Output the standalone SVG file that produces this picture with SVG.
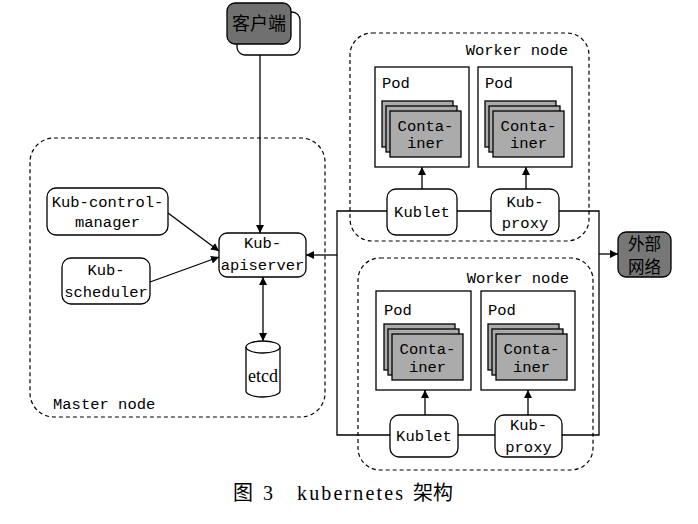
<svg xmlns="http://www.w3.org/2000/svg" width="698" height="524" viewBox="0 0 698 524">
<defs>
<style>
.t{font-family:"Liberation Mono",monospace;font-size:15.5px;fill:#000;}
.m{text-anchor:middle;}
.zh{font-family:"Noto Sans CJK SC",sans-serif;font-size:18px;fill:#000;}
.box{fill:#fff;stroke:#000;stroke-width:1.3;}
.dash{fill:none;stroke:#000;stroke-width:1.2;stroke-dasharray:4 3;}
.pod{fill:#fff;stroke:#000;stroke-width:1.3;}
.ct{fill:#ababab;stroke:#000;stroke-width:1.3;}
.ln{fill:none;stroke:#000;stroke-width:1.3;}
.ar{fill:none;stroke:#000;stroke-width:1.3;marker-end:url(#ah);}
</style>
<marker id="ah" viewBox="0 0 10 10" refX="10" refY="5" markerWidth="8" markerHeight="8" markerUnits="userSpaceOnUse" orient="auto-start-reverse">
<path d="M0,0 L10,5 L0,10 z" fill="#000"/>
</marker>
<g id="cstack">
<rect class="ct" x="0" y="0" width="71" height="46"/>
<rect class="ct" x="4" y="5" width="71" height="46"/>
<rect class="ct" x="8" y="10" width="71" height="46"/>
</g>
</defs>
<rect width="698" height="524" fill="#fff"/>

<g id="client">
<rect x="237" y="12" width="63" height="43" rx="8" fill="#fff" stroke="#000" stroke-width="1.3"/>
<rect x="227" y="3" width="64" height="41" rx="8" fill="#707070" stroke="#000" stroke-width="1.3"/>
<text class="zh m" x="259" y="30">客户端</text>
</g>

<g id="master-node">
<rect class="dash" x="30" y="138" width="295" height="279" rx="24"/>
<text class="t" x="53" y="409">Master node</text>
</g>

<g id="controller-manager">
<rect class="box" x="47" y="188" width="121" height="47" rx="9"/>
<text class="t m" x="107.5" y="207">Kub-control-</text>
<text class="t m" x="107.5" y="227">manager</text>
</g>

<g id="scheduler">
<rect class="box" x="62" y="258" width="88" height="46" rx="9"/>
<text class="t m" x="106" y="275">Kub-</text>
<text class="t m" x="106" y="297">scheduler</text>
</g>

<g id="apiserver">
<rect class="box" x="219" y="233" width="87" height="44" rx="8"/>
<text class="t m" x="262.5" y="248">Kub-</text>
<text class="t m" x="262.5" y="270">apiserver</text>
</g>

<g id="etcd">
<path d="M246,347 L246,391 A17,6 0 0 0 280,391 L280,347" fill="#fff" stroke="#000" stroke-width="1.3"/>
<ellipse cx="263" cy="347" rx="17" ry="6" fill="#fff" stroke="#000" stroke-width="1.3"/>
<text x="263" y="382" text-anchor="middle" style="font-family:'Liberation Serif',serif;font-size:18px">etcd</text>
</g>

<g id="worker-node-1">
<rect class="dash" x="350" y="33" width="239" height="208" rx="22"/>
<text class="t" x="568" y="55" text-anchor="end">Worker node</text>
</g>
<g id="pod-1">
<rect class="pod" x="375" y="67" width="94" height="100"/>
<text class="t" x="382" y="88">Pod</text>
<use href="#cstack" x="382" y="101"/>
<text class="t m" x="425.5" y="131">Conta-</text>
<text class="t m" x="425.5" y="148">iner</text>
</g>
<g id="pod-2">
<rect class="pod" x="478" y="67" width="94" height="100"/>
<text class="t" x="485" y="88">Pod</text>
<use href="#cstack" x="485" y="101"/>
<text class="t m" x="528.5" y="131">Conta-</text>
<text class="t m" x="528.5" y="148">iner</text>
</g>
<g id="kublet-1">
<rect class="box" x="387" y="189" width="70" height="46" rx="9"/>
<text class="t m" x="422" y="217">Kublet</text>
</g>
<g id="kubproxy-1">
<rect class="box" x="491" y="189" width="68" height="46" rx="9"/>
<text class="t m" x="525" y="207">Kub-</text>
<text class="t m" x="525" y="228">proxy</text>
</g>

<g id="worker-node-2">
<rect class="dash" x="358" y="258" width="235" height="212" rx="22"/>
<text class="t" x="569" y="283" text-anchor="end">Worker node</text>
</g>
<g id="pod-3">
<rect class="pod" x="376" y="291" width="95" height="99"/>
<text class="t" x="384" y="315">Pod</text>
<use href="#cstack" x="384" y="324"/>
<text class="t m" x="427.5" y="354">Conta-</text>
<text class="t m" x="427.5" y="372">iner</text>
</g>
<g id="pod-4">
<rect class="pod" x="481" y="291" width="94" height="99"/>
<text class="t" x="488" y="315">Pod</text>
<use href="#cstack" x="488" y="324"/>
<text class="t m" x="531.5" y="354">Conta-</text>
<text class="t m" x="531.5" y="372">iner</text>
</g>
<g id="kublet-2">
<rect class="box" x="390" y="415" width="68" height="42" rx="9"/>
<text class="t m" x="424" y="441">Kublet</text>
</g>
<g id="kubproxy-2">
<rect class="box" x="495" y="415" width="67" height="42" rx="9"/>
<text class="t m" x="528.5" y="430">Kub-</text>
<text class="t m" x="528.5" y="452">proxy</text>
</g>

<g id="external-network">
<rect x="618" y="232" width="53" height="45" rx="8" fill="#777" stroke="#000" stroke-width="1.3"/>
<text class="zh m" x="644.5" y="250" style="font-size:16.5px">外部</text>
<text class="zh m" x="644.5" y="273" style="font-size:16.5px">网络</text>
</g>

<g id="connectors">
<path class="ar" d="M260,55 L260,233"/>
<path class="ar" d="M168,213 L219,251"/>
<path class="ar" d="M150,282 L219,257"/>
<path class="ar" d="M263,341 L263,277" style="marker-start:url(#ah)"/>
<path class="ln" d="M387,211 L337,211 L337,435 L390,435"/>
<path class="ar" d="M337,255 L306,255"/>
<path class="ln" d="M457,211 L491,211"/>
<path class="ln" d="M559,211 L599,211 L599,435 L562,435"/>
<path class="ln" d="M458,435 L495,435"/>
<path class="ar" d="M599,254 L618,254"/>
<path class="ar" d="M422,189 L422,167"/>
<path class="ar" d="M526,189 L526,167"/>
<path class="ar" d="M425,415 L425,390"/>
<path class="ar" d="M528,415 L528,390"/>
</g>

<text x="233" y="500" style="font-family:'Liberation Serif','Noto Sans CJK SC',serif;font-size:20px">图<tspan x="263">3</tspan><tspan x="297" textLength="106" lengthAdjust="spacing">kubernetes</tspan><tspan x="413">架构</tspan></text>
</svg>
